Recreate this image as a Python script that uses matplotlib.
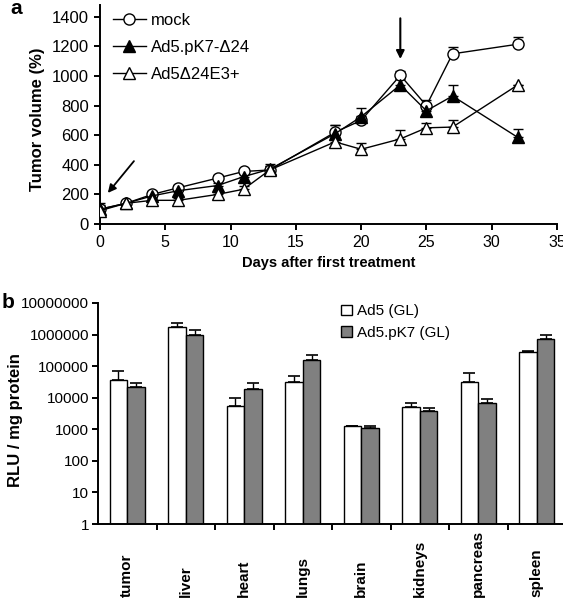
import numpy as np
import matplotlib
matplotlib.use('Agg')
import matplotlib.pyplot as plt
import matplotlib.transforms as mtransforms

plt.rcParams['font.family'] = ['Liberation Sans', 'DejaVu Sans']

# panel a: tumor volume over time
days = [0, 2, 4, 6, 9, 11, 13, 18, 20, 23, 25, 27, 32]
mock = [100, 140, 200, 245, 310, 355, 365, 620, 700, 1005, 800, 1150, 1215]
mock_err = [40, 15, 20, 20, 20, 20, 30, 50, 30, 30, 35, 45, 50]
pk7 = [100, 140, 190, 225, 260, 320, 370, 610, 725, 940, 765, 865, 585]
pk7_err = [30, 15, 20, 20, 20, 20, 35, 60, 60, 40, 40, 75, 60]
e3 = [90, 140, 160, 160, 200, 235, 365, 555, 505, 575, 650, 655, 940]
e3_err = [30, 15, 15, 15, 15, 20, 30, 30, 40, 60, 35, 50, 0]
series_names = ['mock', 'Ad5.pK7-\u039424', 'Ad5\u039424E3+']

# panel b: luciferase expression per organ
organs = ['tumor', 'liver', 'heart', 'lungs', 'brain', 'kidneys', 'pancreas', 'spleen']
ad5 = [37000, 1800000, 5300, 32000, 1230, 5000, 31000, 280000]
ad5_top = [71000, 2400000, 10000, 49000, 1270, 6900, 59000, 295000]
pk7_gl = [22000, 980000, 19000, 162000, 1100, 3700, 6800, 730000]
pk7_gl_top = [29000, 1400000, 29000, 230000, 1270, 4700, 8900, 980000]
bar_names = ['Ad5 (GL)', 'Ad5.pK7 (GL)']

W, H = 563, 600
fig = plt.figure(figsize=(W / 100, H / 100), dpi=100)


def box(l, t, r, b):
    return [l / W, 1 - b / H, (r - l) / W, (b - t) / H]


lw = 1.4

# ---------- panel a ----------
ax1 = fig.add_axes(box(100, 5, 557, 224))
styles = [dict(marker='o', mfc='white'), dict(marker='^', mfc='black'), dict(marker='^', mfc='white')]
ys = [mock, pk7, e3]
errs = [mock_err, pk7_err, e3_err]
for y, e in zip(ys, errs):
    ax1.errorbar(days, y, yerr=[np.zeros(len(e)), e], fmt='none', ecolor='black',
                 elinewidth=1, capsize=3.5, capthick=1, zorder=2)
for y, st, name in zip(ys, styles, series_names):
    ax1.plot(days, y, color='black', lw=1, ms=8, mec='black', mew=1,
             label=name, zorder=3, **st)

ax1.set_xlim(0, 35)
ax1.set_ylim(0, 1480)
ax1.set_xticks(np.arange(0, 36, 5))
ax1.set_yticks(np.arange(0, 1401, 200))
for s in ['top', 'right']:
    ax1.spines[s].set_visible(False)
for s in ['left', 'bottom']:
    ax1.spines[s].set_linewidth(lw)
ax1.tick_params(axis='both', width=lw, length=4, labelsize=12)
ax1.tick_params(axis='x', pad=4, labelsize=11.5)
ax1.tick_params(axis='y', pad=4)
ax1.set_xlabel('Days after first treatment', fontsize=10.5, fontweight='bold', labelpad=4)
ax1.set_ylabel('Tumor volume (%)', fontsize=12, fontweight='bold')
ax1.yaxis.set_label_coords(-0.12, 0.48)

# treatment arrows
ax1.annotate('', xy=(0.6, 210), xytext=(2.6, 425),
             arrowprops=dict(arrowstyle='-|>', color='black', lw=1.3,
                             mutation_scale=12, shrinkA=0, shrinkB=0))
ax1.annotate('', xy=(23, 1115), xytext=(23, 1390),
             arrowprops=dict(arrowstyle='-|>', color='black', lw=1.5,
                             mutation_scale=12, shrinkA=0, shrinkB=0))

ax1.legend(loc='upper left', bbox_to_anchor=(0.028, 0.963), frameon=False,
           fontsize=12, handlelength=2.0, handletextpad=0.3, labelspacing=0.72,
           borderpad=0, borderaxespad=0)

fig.text(10 / W, 1 - 9 / H, 'a', fontsize=15, fontweight='bold', va='center', ha='left')

# ---------- panel b ----------
ax2 = fig.add_axes(box(98, 303, 566, 524))
x = np.arange(len(organs))
bw = 0.3
ad5 = np.array(ad5)
pk7_gl = np.array(pk7_gl)
ax2.bar(x - bw / 2, ad5, bw, color='white', edgecolor='black', lw=1, label=bar_names[0], zorder=2)
ax2.bar(x + bw / 2, pk7_gl, bw, color='#808080', edgecolor='black', lw=1, label=bar_names[1], zorder=2)
ax2.errorbar(x - bw / 2, ad5, yerr=[np.zeros(len(ad5)), np.array(ad5_top) - ad5], fmt='none',
             ecolor='black', elinewidth=1, capsize=4, capthick=1.2, zorder=1)
ax2.errorbar(x + bw / 2, pk7_gl, yerr=[np.zeros(len(pk7_gl)), np.array(pk7_gl_top) - pk7_gl], fmt='none',
             ecolor='black', elinewidth=1, capsize=4, capthick=1.2, zorder=1)

ax2.set_yscale('log')
ax2.set_ylim(1, 1e7)
ax2.set_xlim(-0.5, len(organs) - 0.5)
yt = [10 ** k for k in range(8)]
ax2.set_yticks(yt)
ax2.set_yticklabels([str(v) for v in yt])
ax2.yaxis.set_minor_locator(matplotlib.ticker.NullLocator())
ax2.set_xticks(np.arange(0.5, len(organs) - 1, 1))
ax2.set_xticklabels([])
for s in ['top', 'right']:
    ax2.spines[s].set_visible(False)
for s in ['left', 'bottom']:
    ax2.spines[s].set_linewidth(lw)
ax2.tick_params(axis='both', width=lw, length=4.5, labelsize=11)
ax2.tick_params(axis='y', pad=2)
ax2.set_ylabel('RLU / mg protein', fontsize=12, fontweight='bold')
ax2.yaxis.set_label_coords(-0.16, 0.47)

trans = mtransforms.blended_transform_factory(ax2.transData, fig.transFigure)
for i, name in enumerate(organs):
    ax2.text(i, 3 / H, name, rotation=90, ha='center', va='bottom', fontsize=11,
             fontweight='bold', transform=trans)

ax2.legend(loc='upper left', bbox_to_anchor=(0.52, 0.994), frameon=False,
           fontsize=11, handlelength=0.7, handleheight=0.7, handletextpad=0.3,
           labelspacing=0.48, borderpad=0, borderaxespad=0)

fig.text(2 / W, 1 - 302 / H, 'b', fontsize=15, fontweight='bold', va='center', ha='left')

fig.savefig('out.png', dpi=100)
